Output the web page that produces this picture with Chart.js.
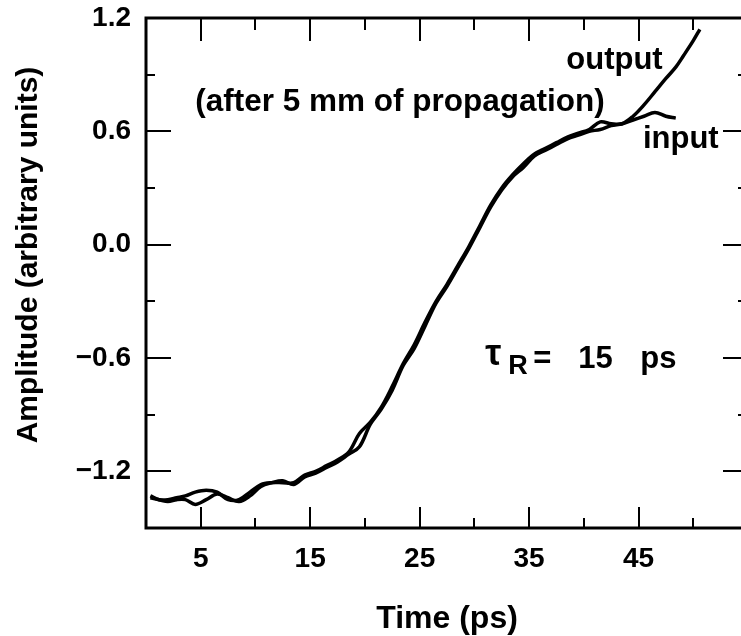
<!DOCTYPE html>
<html>
<head>
<meta charset="utf-8">
<script src="https://cdn.jsdelivr.net/npm/chart.js@4/dist/chart.umd.min.js"></script>
<style>
  html, body { margin: 0; padding: 0; background: #fff; }
  #wrap { width: 741px; height: 636px; overflow: hidden; }
  canvas { display: block; }
</style>
</head>
<body>
<div id="wrap"><canvas id="pulseChart" width="760" height="636"></canvas></div>
<script>
// Trace values
const inputTime = [0.4, 1.2, 2.0, 2.8, 3.6, 4.5, 5.5, 6.5, 7.5, 8.5, 9.5, 10.5, 11.5, 12.5, 13.5, 14.5, 15.5, 16.5, 17.5, 18.5,
    19.5, 20.5, 21.5, 22.5, 23.5, 24.5, 25.5, 26.5, 27.5, 28.5, 29.5, 30.5, 31.5, 32.5, 33.5, 34.5, 35.5, 36.5, 37.5, 38.5,
    39.5, 40.5, 41.5, 42.5, 43.5, 44.5, 45.5, 46.5, 47.5, 48.4];
const inputAmp = [-1.34, -1.35, -1.36, -1.35, -1.35, -1.375, -1.35, -1.32, -1.34, -1.36, -1.33, -1.28, -1.26, -1.25, -1.27,
    -1.23, -1.21, -1.18, -1.15, -1.11, -1.07, -0.95, -0.87, -0.77, -0.64, -0.55, -0.43, -0.31, -0.22, -0.12,
    -0.02, 0.09, 0.20, 0.29, 0.36, 0.41, 0.47, 0.50, 0.53, 0.56, 0.58, 0.60, 0.61, 0.63, 0.64,
    0.66, 0.68, 0.70, 0.68, 0.67];

const outputTime = [0.4, 1.2, 2.0, 2.8, 3.6, 4.5, 5.5, 6.5, 7.5, 8.5, 9.5, 10.5, 11.5, 12.5, 13.5, 14.5, 15.5, 16.5, 17.5, 18.5,
    19.5, 20.5, 21.5, 22.5, 23.5, 24.5, 25.5, 26.5, 27.5, 28.5, 29.5, 30.5, 31.5, 32.5, 33.5, 34.5, 35.5, 36.5, 37.5, 38.5,
    39.5, 40.5, 41.5, 42.5, 43.5, 44.5, 45.5, 46.5, 47.5, 48.4, 49.1, 50.0, 50.6];
const outputAmp = [-1.33, -1.35, -1.35, -1.34, -1.33, -1.31, -1.30, -1.31, -1.35, -1.35, -1.31, -1.27, -1.26, -1.26, -1.26,
    -1.22, -1.20, -1.17, -1.14, -1.10, -1.00, -0.94, -0.86, -0.75, -0.63, -0.53, -0.41, -0.30, -0.21, -0.11,
    -0.01, 0.10, 0.21, 0.30, 0.37, 0.43, 0.48, 0.51, 0.54, 0.57, 0.59, 0.61, 0.65, 0.64, 0.64,
    0.68, 0.74, 0.81, 0.88, 0.94, 1.00, 1.08, 1.14];

// Axis ticks
const xLabelTicks = [5, 15, 25, 35, 45];
const yLabelTicks = [1.2, 0.6, 0.0, -0.6, -1.2];

const FONT = "'Liberation Sans', Arial, Helvetica, sans-serif";

function toPoints(xs, ys) {
    return xs.map((x, i) => ({ x: x, y: ys[i] }));
}

// Frame, inward ticks, axis titles and the text inside the plot
const framePlugin = {
    id: "frame",
    afterDraw(chart) {
        const ctx = chart.ctx;
        const area = chart.chartArea;
        const xs = chart.scales.x;
        const ys = chart.scales.y;
        ctx.save();
        ctx.strokeStyle = "#000";
        ctx.lineCap = "butt";

        // x ticks every 5 ps, top and bottom
        ctx.lineWidth = 2;
        for (let t = 5; t < 55; t += 5) {
            const px = Math.round(xs.getPixelForValue(t));
            const major = (t - 5) % 10 === 0;
            ctx.beginPath();
            ctx.moveTo(px, area.bottom);
            ctx.lineTo(px, area.bottom - (major ? 21 : 10));
            ctx.moveTo(px, area.top);
            ctx.lineTo(px, area.top + (major ? 23 : 12));
            ctx.stroke();
        }
        // y ticks every 0.3, left and right
        for (let i = -4; i <= 3; i++) {
            const py = Math.round(ys.getPixelForValue(i * 0.3));
            const major = i % 2 === 0;
            ctx.beginPath();
            ctx.moveTo(area.left, py);
            ctx.lineTo(area.left + (major ? 25 : 9), py);
            ctx.moveTo(area.right, py);
            ctx.lineTo(area.right - (major ? 25 : 10), py);
            ctx.stroke();
        }

        ctx.lineWidth = 3;
        ctx.strokeRect(area.left, area.top, area.right - area.left, area.bottom - area.top);

        ctx.fillStyle = "#000";

        // axis titles
        ctx.textAlign = "center";
        ctx.textBaseline = "middle";
        ctx.font = "bold 32px " + FONT;
        ctx.fillText("Time (ps)", (area.left + area.right) / 2, 619);
        ctx.save();
        ctx.translate(29, 255);
        ctx.rotate(-Math.PI / 2);
        ctx.font = "bold 30px " + FONT;
        ctx.fillText("Amplitude (arbitrary units)", 0, 0);
        ctx.restore();

        // annotations
        ctx.textBaseline = "alphabetic";
        ctx.textAlign = "left";
        ctx.font = "bold 31.5px " + FONT;
        ctx.fillText("(after 5 mm of propagation)", xs.getPixelForValue(4.5), ys.getPixelForValue(0.71));
        ctx.font = "bold 31px " + FONT;
        ctx.fillText("output", xs.getPixelForValue(38.4), ys.getPixelForValue(0.93));
        ctx.fillText("input", xs.getPixelForValue(45.4), ys.getPixelForValue(0.51));

        const x0 = xs.getPixelForValue(31.0);
        const base = ys.getPixelForValue(-0.655);
        ctx.font = "bold 36px " + FONT;
        ctx.fillText("\u03C4", x0, base - 3);
        ctx.font = "bold 27px " + FONT;
        ctx.fillText("R", x0 + 23, base + 6);
        ctx.font = "bold 31px " + FONT;
        ctx.fillText("=", x0 + 48, base);
        ctx.fillText("15", x0 + 93, base);
        ctx.fillText("ps", x0 + 155, base);
        ctx.restore();
    }
};

const chart = new Chart(document.getElementById("pulseChart"), {
    type: "line",
    data: {
        datasets: [
            {
                label: "input",
                data: toPoints(inputTime, inputAmp),
                borderColor: "#000",
                borderWidth: 3.5,
                pointRadius: 0,
                tension: 0.35,
                fill: false
            },
            {
                label: "output",
                data: toPoints(outputTime, outputAmp),
                borderColor: "#000",
                borderWidth: 3.5,
                pointRadius: 0,
                tension: 0.35,
                fill: false
            }
        ]
    },
    options: {
        responsive: false,
        animation: false,
        layout: { padding: { top: 18, right: 12, left: 0, bottom: 0 } },
        plugins: {
            legend: { display: false },
            tooltip: { enabled: false }
        },
        scales: {
            x: {
                type: "linear",
                min: 0,
                max: 55,
                afterFit(scale) {
                    scale.height = 108;
                    scale.paddingLeft = 0;
                    scale.paddingRight = 0;
                },
                afterBuildTicks(scale) { scale.ticks = xLabelTicks.map(v => ({ value: v })); },
                ticks: {
                    color: "#000",
                    padding: 14,
                    maxRotation: 0,
                    font: { family: FONT, size: 28, weight: "bold" },
                    callback: v => String(v)
                },
                grid: { display: false, drawTicks: false },
                border: { display: false }
            },
            y: {
                min: -1.5,
                max: 1.2,
                afterFit(scale) {
                    scale.width = 146;
                    scale.paddingTop = 0;
                    scale.paddingBottom = 0;
                },
                afterBuildTicks(scale) { scale.ticks = yLabelTicks.map(v => ({ value: v })); },
                ticks: {
                    color: "#000",
                    padding: 15,
                    font: { family: FONT, size: 28, weight: "bold" },
                    callback: v => (v < 0 ? "\u2212" : "") + Math.abs(v).toFixed(1)
                },
                grid: { display: false, drawTicks: false },
                border: { display: false }
            }
        }
    },
    plugins: [framePlugin]
});
</script>
</body>
</html>
